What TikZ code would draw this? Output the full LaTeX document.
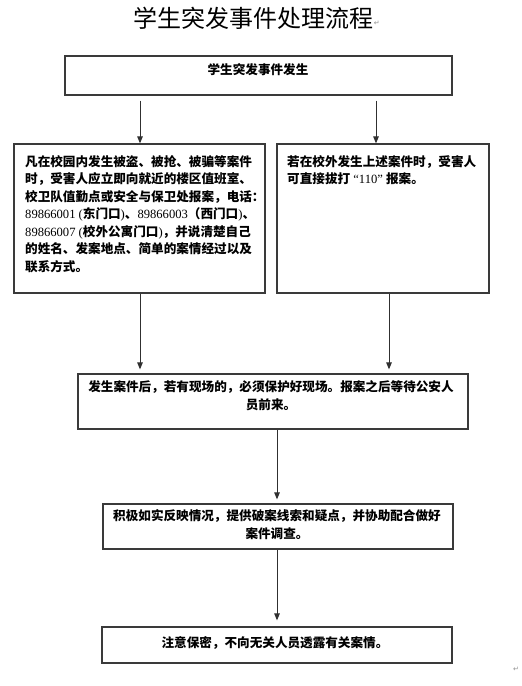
\documentclass[tikz,border=0pt]{standalone}
\usepackage{fontspec}
\setmainfont{Liberation Serif}
\newfontfamily\cjk{Noto Sans CJK SC}
\newfontfamily\symfont{DejaVu Sans}
\usetikzlibrary{arrows.meta}
\definecolor{boxc}{HTML}{3A3A3A}
\definecolor{linec}{HTML}{303030}
\definecolor{markc}{HTML}{909090}
\begin{document}
\begin{tikzpicture}[x=1pt,y=-1pt,
  box/.style={draw=boxc, line width=1.2pt, inner sep=0pt},
  arr/.style={draw=linec, line width=1pt, -{Triangle[width=5.5pt,length=7pt]}},
  txt/.style={inner sep=0pt, font=\cjk\bfseries\fontsize{12.6}{17.5}\selectfont},
  pmark/.style={inner sep=0pt, text=markc, font=\symfont\fontsize{7}{8}\selectfont},
  ]
\useasboundingbox (0,0) rectangle (522,686);
\fill[white] (0,0) rectangle (522,686);

% title
\node[inner sep=0pt, font=\cjk\fontsize{24}{28}\selectfont] (title) at (253.5,18) {学生突发事件处理流程};
\node[pmark, anchor=west] (m1) at (title.east |- 0,23) {↵};

% boxes
\node[box, minimum width=387pt, minimum height=39pt] (b1) at (258.5,75.5) {};
\node[box, minimum width=251pt, minimum height=149pt] (b2) at (139.5,218.5) {};
\node[box, minimum width=212pt, minimum height=149pt] (b3) at (383,218.5) {};
\node[box, minimum width=390pt, minimum height=55pt] (b4) at (273,401.5) {};
\node[box, minimum width=350pt, minimum height=45pt] (b5) at (278,526.5) {};
\node[box, minimum width=350pt, minimum height=36pt] (b6) at (277,645) {};

% texts
\node[txt] (t1) at (258,70) {学生突发事件发生};
\node[txt, anchor=north west, align=left] (t2) at (25,155) {%
凡在校园内发生被盗、被抢、被骗等案件\\
时，受害人应立即向就近的楼区值班室、\\
校卫队值勤点或安全与保卫处报案，电话：\\
\textnormal{89866001 (}东门口\textnormal{)}、\textnormal{89866003}（西门口\textnormal{)}、\\
\textnormal{89866007 (}校外公寓门口\textnormal{)}，并说清楚自己\\
的姓名、发案地点、简单的案情经过以及\\
联系方式。};
\node[txt, anchor=north west, align=left] (t3) at (287,155) {%
若在校外发生上述案件时，受害人\\
可直接拔打\textnormal{ “110” }报案。};
\node[txt, align=center] (t4) at (271,395.5) {%
发生案件后，若有现场的，必须保护好现场。报案之后等待公安人\\
员前来。};
\node[txt, align=center] (t5) at (277,524.5) {%
积极如实反映情况，提供破案线索和疑点，并协助配合做好\\
案件调查。};
\node[txt] (t6) at (275,643) {注意保密，不向无关人员透露有关案情。};

\node[pmark] (m2) at (516,669) {↵};

% connectors
\coordinate (xl) at (140,0);
\coordinate (xr) at (376,0);
\coordinate (xr2) at (389,0);
\coordinate (xm) at (277,0);
\draw[arr] ([yshift=-5pt]b1.south -| xl) -- (b2.north -| xl);
\draw[arr] ([yshift=-5pt]b1.south -| xr) -- (b3.north -| xr);
\draw[arr, shorten >=4pt] (b2.south -| xl) -- (b4.north -| xl);
\draw[arr, shorten >=4pt] (b3.south -| xr2) -- (b4.north -| xr2);
\draw[arr, shorten >=4pt] (b4.south -| xm) -- (b5.north -| xm);
\draw[arr, shorten >=6pt] (b5.south -| xm) -- (b6.north -| xm);
\end{tikzpicture}
\end{document}
